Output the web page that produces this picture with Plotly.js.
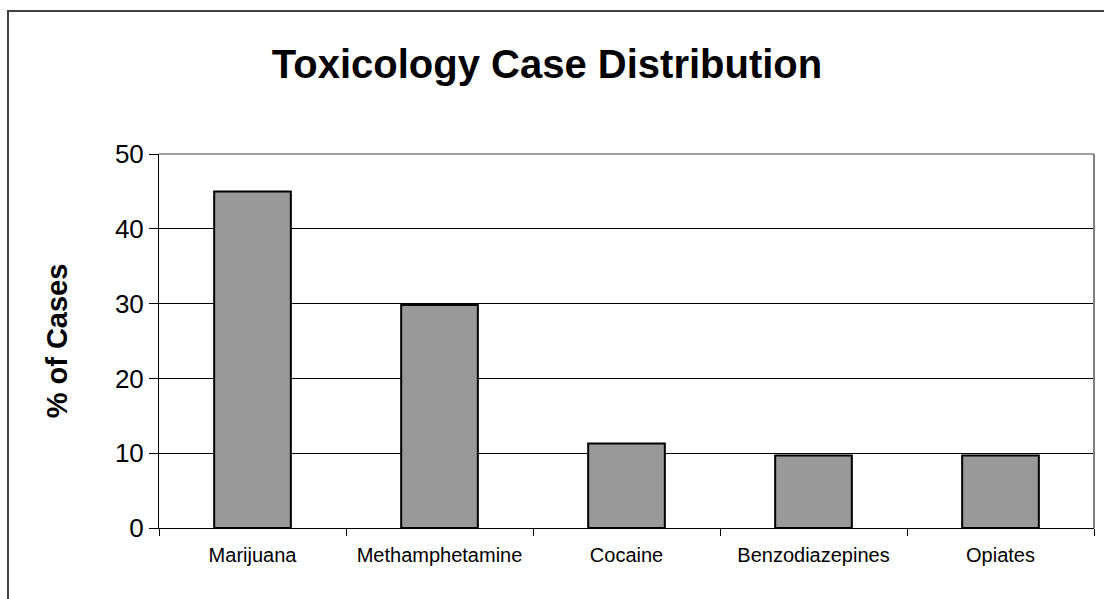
<!DOCTYPE html>
<html>
<head>
<meta charset="utf-8">
<script src="https://cdn.plot.ly/plotly-3.0.1.min.js"></script>
<style>
html, body { margin: 0; padding: 0; background: #ffffff; }
#chart { width: 1104px; height: 599px; }
</style>
</head>
<body>
<div id="chart"></div>
<script>
const categories = ["Marijuana", "Methamphetamine", "Cocaine", "Benzodiazepines", "Opiates"];
const percentCases = [45, 29.8, 11.3, 9.7, 9.7];
const yTickValues = [0, 10, 20, 30, 40, 50];
const chartTitle = "Toxicology Case Distribution";
const yAxisTitle = "% of Cases";

const FONT = "Arial, 'Liberation Sans', sans-serif";

const trace = {
  type: "bar",
  x: categories,
  y: percentCases,
  width: 0.41,
  marker: { color: "#999999", line: { color: "#000000", width: 2 } },
  hoverinfo: "x+y"
};

const layout = {
  width: 1104,
  height: 599,
  margin: { l: 159, r: 10, t: 154, b: 71 },
  paper_bgcolor: "#ffffff",
  plot_bgcolor: "#ffffff",
  showlegend: false,
  title: {
    text: "<b>" + chartTitle + "</b>",
    font: { family: FONT, size: 40, color: "#000000" },
    x: 0.415, xref: "paper", xanchor: "center",
    y: 0.893, yref: "container", yanchor: "middle"
  },
  xaxis: {
    type: "category",
    showline: true, linecolor: "#000000", linewidth: 1,
    ticks: "outside", tickson: "boundaries", ticklen: 7, tickcolor: "#000000", tickwidth: 1,
    tickfont: { family: FONT, size: 20, color: "#000000" },
    ticklabelstandoff: 9,
    showgrid: false, zeroline: false,
    range: [-0.5, 4.5]
  },
  yaxis: {
    range: [0, 50],
    tickvals: yTickValues,
    ticktext: yTickValues.map(String),
    showline: true, linecolor: "#000000", linewidth: 1,
    ticks: "outside", ticklen: 9, tickcolor: "#000000", tickwidth: 1,
    tickfont: { family: FONT, size: 26, color: "#000000" },
    showgrid: true, gridcolor: "#000000", gridwidth: 1,
    zeroline: false,
    title: {
      text: "<b>" + yAxisTitle + "</b>",
      font: { family: FONT, size: 29, color: "#000000" },
      standoff: 38
    }
  },
  shapes: [
    {
      type: "line", xref: "paper", yref: "paper", layer: "above",
      x0: 0, x1: 1, y0: 1, y1: 1,
      line: { color: "#a0a0a0", width: 2 }
    },
    {
      type: "line", xref: "paper", yref: "paper", layer: "above",
      x0: 1, x1: 1, y0: 0, y1: 1,
      line: { color: "#808080", width: 2 }
    },
    {
      type: "rect", xref: "paper", yref: "paper", layer: "above",
      x0: -0.1615, x1: 1.2, y0: -0.4, y1: 1.3824,
      line: { color: "#404040", width: 2 },
      fillcolor: "rgba(0,0,0,0)"
    }
  ]
};

Plotly.newPlot("chart", [trace], layout, { displayModeBar: false, staticPlot: true });
</script>
</body>
</html>
